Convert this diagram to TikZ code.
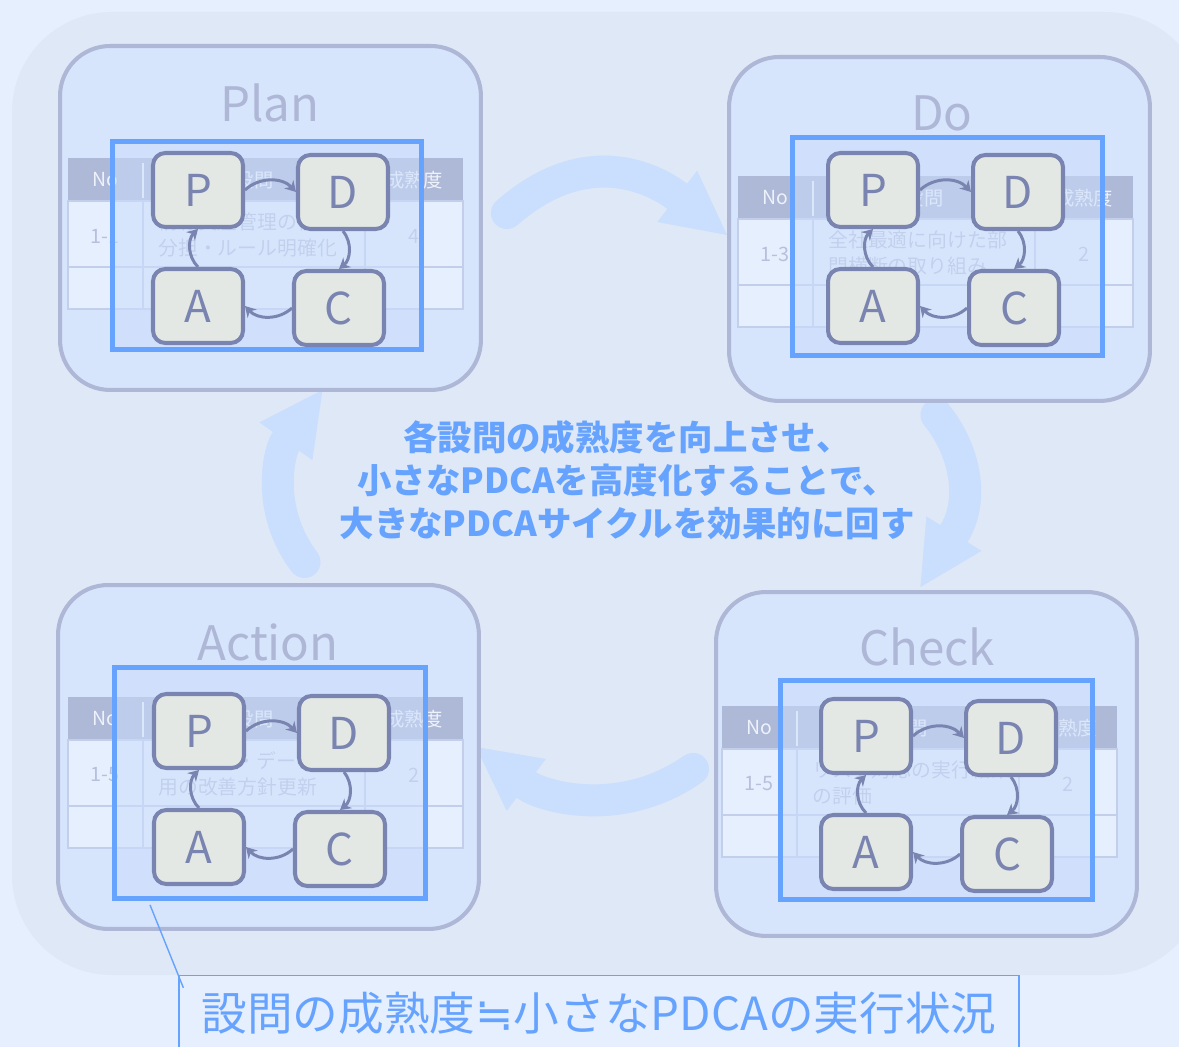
\documentclass[tikz,border=0pt]{standalone}
\usepackage{fontspec}
\setmainfont{Noto Sans CJK JP}
\newfontfamily\eqsignfont{DejaVu Sans}
\usepackage{xcolor}
\usetikzlibrary{arrows.meta, positioning, calc, backgrounds}
\definecolor{canvas}{HTML}{E6EFFD}
\definecolor{backdrop}{HTML}{DFE8F6}
\definecolor{panelfill}{HTML}{D6E4FC}
\definecolor{panelline}{HTML}{AEB7D6}
\definecolor{hdrfill}{HTML}{AEB8D7}
\definecolor{hdrtext}{HTML}{EEF2FB}
\definecolor{rowfill}{HTML}{E6EFFE}
\definecolor{rowline}{HTML}{C3CEEB}
\definecolor{celltext}{HTML}{B6C0DC}
\definecolor{veil}{HTML}{CCDEFC}
\definecolor{hiblue}{HTML}{66A3FF}
\definecolor{boxgray}{HTML}{E4E8E4}
\definecolor{cycline}{HTML}{7A84B0}
\definecolor{arrowblue}{HTML}{CADEFD}
\tikzset{
    panel/.style={draw=panelline, fill=panelfill, line width=2.3pt, rounded corners=1cm, minimum width=8.42cm, minimum height=6.88cm, anchor=north west},
    ttl/.style={text=panelline, font=\fontsize{27}{27}\selectfont},
    hilite/.style={draw=hiblue, line width=2.8pt, fill=veil, fill opacity=0.55, anchor=north west, inner sep=0pt},
    pdbox/.style={draw=cycline, fill=boxgray, line width=2.3pt, rounded corners=7pt, minimum width=1.8cm, minimum height=1.48cm, inner sep=0pt, text=cycline, font=\fontsize{25}{25}\selectfont},
    cyc/.style={draw=cycline, line width=1.7pt, -{Stealth[length=6pt, width=7pt]}},
    bigarrow/.style={draw=arrowblue, line width=0.64cm, line cap=round, -{Triangle[length=1.26cm, width=1.3cm, line width=0pt]}},
    hdrtxt/.style={text=hdrtext, font=\fontsize{11}{12}\selectfont, inner sep=0pt},
    celltxt/.style={text=celltext, font=\fontsize{11.3}{14.7}\selectfont, inner sep=0pt},
    msg/.style={text=hiblue, align=center, font=\bfseries\fontsize{19.6}{24.4}\selectfont},
    lblbox/.style={draw=hiblue, line width=0.8pt, fill=canvas, text=hiblue, minimum width=16.8cm, minimum height=1.5cm, font=\fontsize{26}{26}\selectfont},
    leader/.style={draw=hiblue, line width=0.8pt}
}
% question table behind each cycle
\newcommand{\qtable}[6]{%
    \begin{scope}[shift={(#2,#3)}]
        \fill[hdrfill] (0,0) rectangle (395,43);
        \draw[rowline, fill=rowfill, line width=1.2pt] (0,43) rectangle (395,109) (0,109) rectangle (395,151);
        \draw[rowline, line width=1.2pt] (75,43) -- (75,151) (297,43) -- (297,151);
        \draw[hdrtext, line width=1.2pt] (75,5) -- (75,40);
        \node[hdrtxt] (#1-h1) at (37,22) {No};
        \node[hdrtxt] (#1-h2) at (186,22) {設問};
        \node[hdrtxt] (#1-h3) at (346,22) {成熟度};
        \node[celltxt] (#1-no) at (37,78) {#4};
        \node[celltxt, align=left, anchor=west] (#1-q) at (90,77) {#5};
        \node[celltxt] (#1-lv) at (346,78) {#6};
    \end{scope}}
% small PDCA loop
\newcommand{\minicycle}[3]{%
    \begin{scope}[shift={(#2,#3)}]
        \node[pdbox] (#1P) at (46,38) {P};
        \node[pdbox] (#1D) at (191,40) {D};
        \node[pdbox] (#1A) at (46,154) {A};
        \node[pdbox] (#1C) at (187,156) {C};
    \end{scope}
    \draw[cyc] (#1P.east) to[bend left=45] (#1D.west);
    \draw[cyc] (#1D.south) to[bend left=45] (#1C.north);
    \draw[cyc] (#1C.west) to[bend left=45] (#1A.east);
    \draw[cyc] (#1A.north) to[bend left=45] (#1P.south);}

\begin{document}
\begin{tikzpicture}[x=0.02cm, y=-0.02cm]
    \useasboundingbox (0,0) rectangle (1179,1047);
    \begin{pgfonlayer}{background}
        \fill[canvas] (0,0) rectangle (1179,1047);
        \fill[backdrop, rounded corners=2cm] (12,12) rectangle (1205,975);
    \end{pgfonlayer}

    % Plan
    \node[panel] (Plan) at (58,44) {};
    \node[ttl] (Plan-t) at (270,103) {Plan};
    \qtable{pt}{68}{158}{1-1}{情報資産管理の役割\\分担・ルール明確化}{4}
    \node[hilite, minimum width=6.18cm, minimum height=4.16cm] (Plan-h) at (110,139) {};
    \minicycle{pc}{152}{152}

    % Do
    \node[panel] (Do) at (727,55) {};
    \node[ttl] (Do-t) at (942,113) {Do};
    \qtable{dt}{738}{176}{1-3}{全社最適に向けた部\\門横断の取り組み}{2}
    \node[hilite, minimum width=6.2cm, minimum height=4.36cm] (Do-h) at (790,135) {};
    \minicycle{dc}{827}{152}

    % Action
    \node[panel] (Action) at (56,583) {};
    \node[ttl] (Action-t) at (268,642) {Action};
    \qtable{at}{68}{697}{1-5}{アクセス・データ活\\用の改善方針更新}{2}
    \node[hilite, minimum width=6.22cm, minimum height=4.62cm] (Action-h) at (112,665) {};
    \minicycle{ac}{153}{693}

    % Check
    \node[panel] (Check) at (714,590) {};
    \node[ttl] (Check-t) at (927,647) {Check};
    \qtable{ct}{722}{706}{1-5}{リスク対応の実行結果\\の評価}{2}
    \node[hilite, minimum width=6.24cm, minimum height=4.38cm] (Check-h) at (778,678) {};
    \minicycle{cc}{820}{698}

    % big cycle
    \begin{pgfonlayer}{background}
        \draw[bigarrow] ($(Plan.east)+(24,-5)$) .. controls (590,140) and (660,183) .. ($(Do.west)+(0,6)$);
        \draw[bigarrow] ($(Do.south)+(-3,12)$) .. controls (965,450) and (975,500) .. ($(Check.north)+(-6,-3)$);
        \draw[bigarrow] ($(Check.west)+(-21,5)$) .. controls (620,820) and (541,796) .. ($(Action.east)+(-5,-10)$);
        \draw[bigarrow] ($(Action.north)+(36,-21)$) .. controls (265,510) and (279,451) .. ($(Plan.south)+(52,-2)$);
    \end{pgfonlayer}

    \node[msg] (msg) at (627,480) {各設問の成熟度を向上させ、\\小さなPDCAを高度化することで、\\大きなPDCAサイクルを効果的に回す};

    \node[lblbox] (gist) at (599,1013) {設問の成熟度{\eqsignfont ≒}小さなPDCAの実行状況};
    \draw[leader] ($(Action-h.south west)+(38,4)$) -- ($(gist.north west)+(5,13)$);
\end{tikzpicture}
\end{document}
